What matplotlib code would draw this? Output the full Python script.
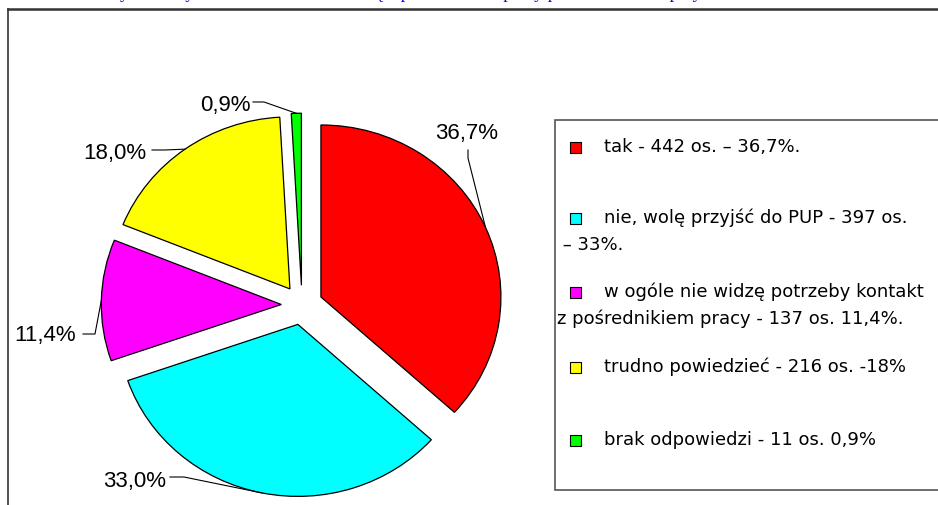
import matplotlib
matplotlib.use("Agg")
import matplotlib.pyplot as plt
from matplotlib.lines import Line2D
from matplotlib.patches import Rectangle
import numpy as np

# dane
shares = [36.7, 33.0, 11.4, 18.0, 0.9]
slice_labels = ["36,7%", "33,0%", "11,4%", "18,0%", "0,9%"]
colors = ["#FF0000", "#00FFFF", "#FF00FF", "#FFFF00", "#00FF00"]
legend_lines = [
    ["tak - 442 os. \u2013 36,7%."],
    ["nie, wolę przyjść do PUP - 397 os.", " \u2013 33%."],
    ["w ogóle nie widzę potrzeby kontakt", "z pośrednikiem pracy - 137 os. 11,4%."],
    ["trudno powiedzieć - 216 os. -18%"],
    ["brak odpowiedzi - 11 os. 0,9%"],
]
title = "Czy chciałby Pan/Pani kontaktować się z pośrednikiem pracy przez Internet w przyszłości?"

W, H = 938, 505
fig = plt.figure(figsize=(W / 100, H / 100), dpi=100)

def px(x, y):
    return x / W, 1 - y / H

# pie in its own axes, centre (302, 305) px, rx 180, ry 172
cx, cy, rx, ry = 302, 305, 180, 172
ax = fig.add_axes([0, 0, 1, 1])
wedges, _ = ax.pie(shares, colors=colors, startangle=90, counterclock=False,
                   explode=[0.115] * len(shares),
                   wedgeprops=dict(edgecolor="black", linewidth=0.9))
ax.set_aspect("auto")
ax.set_xlim(-cx / rx, (W - cx) / rx)
ax.set_ylim(-(H - cy) / ry, cy / ry)
ax.axis("off")

# etykiety z liniami odniesienia (pozycje w px)
label_pos = [(467, 133), (135, 481), (45, 335), (115, 153), (225, 106)]
line_start = [(468, 150), (170, 477), (83, 334), (152, 150), (253, 102)]
line_elbow = [(468, 158), (184, 477), (95, 334), (165, 150), (264, 102)]

to_fig = ax.transData + fig.transFigure.inverted()
for w, lab, p, s, e in zip(wedges, slice_labels, label_pos, line_start, line_elbow):
    mid = np.deg2rad((w.theta1 + w.theta2) / 2)
    anchor = to_fig.transform((w.center[0] + np.cos(mid), w.center[1] + np.sin(mid)))
    fig.text(*px(*p), lab, ha="center", va="center", fontsize=16,
             family="Liberation Sans")
    pts = [px(*s), px(*e), tuple(anchor)]
    fig.add_artist(Line2D([q[0] for q in pts], [q[1] for q in pts],
                          color="black", lw=0.8, transform=fig.transFigure))

# ramka zewnętrzna
fig.add_artist(Line2D([px(8, 0)[0], 1], [px(0, 9)[1]] * 2, color="#333333", lw=1.8,
                      transform=fig.transFigure))
fig.add_artist(Line2D([px(8, 0)[0]] * 2, [px(0, 9)[1], 0], color="#333333", lw=1.2,
                      transform=fig.transFigure))

# tytuł (przycięty u góry, widoczne tylko dolne części liter)
fig.text(px(100, 0)[0], 1.0 + 1.5 / H, title, ha="left", va="baseline", color="#0000FF",
         fontsize=13, family="Liberation Serif")

# legenda
lx0, ly0 = px(555, 490)
lx1, ly1 = px(W + 5, 120)
fig.add_artist(Rectangle((lx0, ly0), lx1 - lx0, ly1 - ly0, transform=fig.transFigure,
                         facecolor="white", edgecolor="#555555", lw=1.2))
entry_y = [147, 218, 292, 367, 440]
for col, lines, y in zip(colors, legend_lines, entry_y):
    sx, sy = px(570, y + 6)
    fig.add_artist(Rectangle((sx, sy), 11 / W, 11 / H, transform=fig.transFigure,
                             facecolor=col, edgecolor="black", lw=0.8))
    fig.text(*px(604, y), lines[0], ha="left", va="center", fontsize=13,
             family="DejaVu Sans")
    if len(lines) > 1:
        fig.text(*px(557, y + 27), lines[1], ha="left", va="center", fontsize=13,
                 family="DejaVu Sans")

fig.savefig("out.png", dpi=100)
